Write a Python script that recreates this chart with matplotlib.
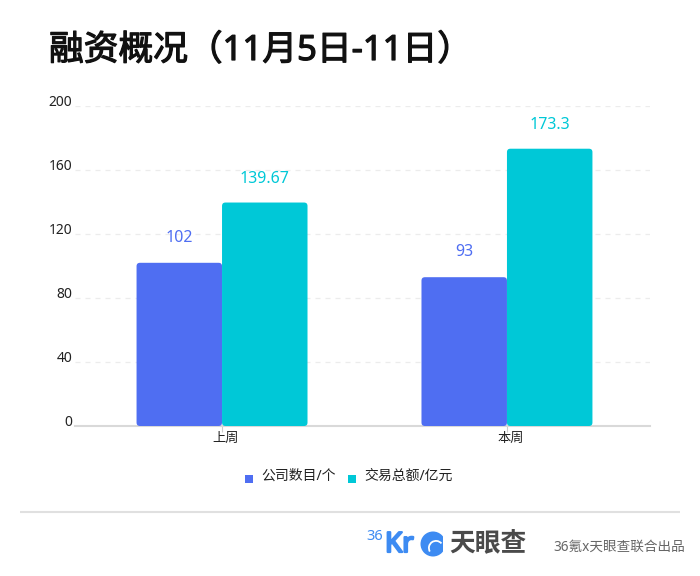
import matplotlib
matplotlib.use('Agg')
import matplotlib.pyplot as plt
import matplotlib.patheffects as pe
from matplotlib.patches import FancyBboxPatch, Circle, Wedge, Rectangle
from matplotlib.transforms import ScaledTranslation

plt.rcParams['font.family'] = ['Noto Sans', 'Noto Sans CJK SC', 'DejaVu Sans']

categories = ['上周', '本周']
companies = [102, 93]
amounts = [139.67, 173.3]
amount_labels = ['139.67', '173.3']
series_names = ['公司数目/个', '交易总额/亿元']
yticks = [0, 40, 80, 120, 160, 200]

BLUE = '#4f6ef2'
CYAN = '#00c8d7'
W, H = 700, 576

fig = plt.figure(figsize=(7, 5.76), dpi=100, facecolor='white')

# overlay in pixel coordinates for title and footer
bg = fig.add_axes([0, 0, 1, 1])
bg.set_xlim(0, W)
bg.set_ylim(H, 0)
bg.axis('off')

ax = fig.add_axes([75 / W, 1 - 426 / H, 575 / W, 320 / H])
ax.patch.set_alpha(0)
ax.set_xlim(-0.516, 1.502)
ax.set_ylim(0, 200)

bar_w = 0.3


def round_bar(x, val, color):
    # bars with small rounded corners
    p = FancyBboxPatch((x, 0), bar_w, val, boxstyle='round,pad=0,rounding_size=0.012',
                       mutation_aspect=178, fc=color, ec='none', zorder=3)
    ax.add_patch(p)


for i, (c, a) in enumerate(zip(companies, amounts)):
    round_bar(i - bar_w, c, BLUE)
    round_bar(i, a, CYAN)
    ax.text(i - bar_w / 2, c + 15.5, str(c), color=BLUE, fontsize=11.5, ha='center', va='center')
    ax.text(i + bar_w / 2, a + 15, amount_labels[i], color=CYAN, fontsize=11.5, ha='center', va='center')

ax.set_yticks(yticks)
ax.set_yticklabels([str(v) for v in yticks], fontsize=10, color='#222222')
ax.set_xticks(range(len(categories)))
ax.set_xticklabels(categories, fontsize=9.5, color='#222222')
ax.tick_params(axis='y', length=0, pad=2)
ax.tick_params(axis='x', length=4, width=0.8, color='#cccccc', pad=0.5)
# labels sit a little above the grid lines / right of the tick
for lab in ax.get_yticklabels():
    lab.set_transform(lab.get_transform() + ScaledTranslation(0, 5 / 100, fig.dpi_scale_trans))
for lab in ax.get_xticklabels():
    lab.set_transform(lab.get_transform() + ScaledTranslation(3.5 / 100, 0, fig.dpi_scale_trans))
ax.yaxis.grid(True, color='#ececec', lw=0.9, ls=(0, (4, 4)), zorder=0)
ax.set_axisbelow(True)
for s in ['top', 'right', 'left']:
    ax.spines[s].set_visible(False)
ax.spines['bottom'].set_color('#d9d9d9')
ax.spines['bottom'].set_linewidth(1.5)

# title, the digits font has no usable bold so thicken with a stroke
bg.text(49, 51, '融资概况（11月5日-11日）', fontsize=25, color='#111111', ha='left', va='center',
        path_effects=[pe.withStroke(linewidth=0.9, foreground='#111111')])

# legend
bg.add_patch(Rectangle((245, 475), 8, 8, fc=BLUE, ec='none'))
bg.text(261, 476, series_names[0], fontsize=10, color='#222222', ha='left', va='center')
bg.add_patch(Rectangle((348, 475), 8, 8, fc=CYAN, ec='none'))
bg.text(364, 476, series_names[1], fontsize=10, color='#222222', ha='left', va='center')

# footer
bg.plot([20, 680], [512, 512], color='#e0e0e0', lw=1.5, solid_capstyle='butt')
LOGO = '#3d8bf2'
bg.text(366, 536, '36', fontsize=10.5, color=LOGO, ha='left', va='center')
bg.text(385, 545, 'Kr', fontsize=20, color=LOGO, ha='left', va='center',
        path_effects=[pe.withStroke(linewidth=1.6, foreground=LOGO)])
bg.add_patch(Circle((433, 544), 12.5, fc=LOGO, ec='none'))
bg.add_patch(Wedge((443, 543), 9, 270, 90, fc='white', ec='none'))
bg.add_patch(Wedge((436, 548), 8, 150, 320, width=1.8, fc='white', ec='none'))
bg.text(449, 544, '天眼查', fontsize=18.5, color='#4a4a4a', fontweight='bold', ha='left', va='center')
bg.text(553, 547, '36氪x天眼查联合出品', fontsize=9.8, color='#666666', ha='left', va='center')

fig.savefig('out.png', dpi=100)
